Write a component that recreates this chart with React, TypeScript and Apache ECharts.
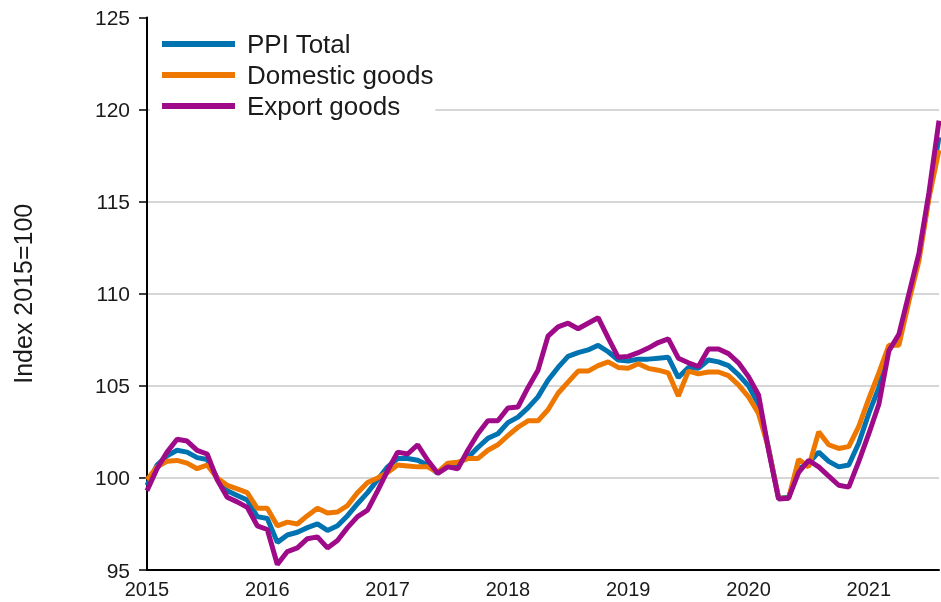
import React, { useEffect, useRef } from "react";
import * as echarts from "echarts";

const months: string[] = [];
for (let y = 2015; y <= 2021; y++) {
  for (let m = 1; m <= 12; m++) {
    if (y === 2021 && m > 8) break;
    months.push(`${y}M${String(m).padStart(2, "0")}`);
  }
}

const seriesNames = ["PPI Total", "Domestic goods", "Export goods"];

const ppiTotal = [
  99.6, 100.7, 101.2, 101.5, 101.4, 101.1, 101.0, 100.0, 99.3, 99.05, 98.8, 97.9,
  97.8, 96.5, 96.9, 97.05, 97.3, 97.5, 97.15, 97.4, 97.95, 98.6, 99.2, 99.9,
  100.6, 101.05, 101.05, 100.96, 100.7, 100.25, 100.7, 100.8, 101.1, 101.65, 102.15, 102.4,
  103.0, 103.3, 103.8, 104.4, 105.3, 106.0, 106.6, 106.8, 106.95, 107.2, 106.85, 106.4,
  106.35, 106.45, 106.45, 106.5, 106.55, 105.45, 106.0, 105.95, 106.4, 106.3, 106.1, 105.6,
  105.0, 104.0, 101.6, 98.9, 98.95, 100.5, 100.8, 101.4, 100.9, 100.6, 100.7, 101.9,
  103.5, 104.9, 107.0, 107.6, 109.8, 112.0, 115.3, 118.5,
];

const domesticGoods = [
  99.9, 100.6, 100.9, 100.95, 100.8, 100.5, 100.7, 100.0, 99.6, 99.4, 99.2, 98.35,
  98.35, 97.4, 97.6, 97.5, 97.95, 98.35, 98.1, 98.15, 98.5, 99.2, 99.75, 100.0,
  100.3, 100.7, 100.65, 100.6, 100.6, 100.3, 100.8, 100.85, 101.05, 101.05, 101.5, 101.8,
  102.3, 102.75, 103.1, 103.1, 103.7, 104.6, 105.2, 105.8, 105.8, 106.1, 106.3, 106.0,
  105.95, 106.2, 105.95, 105.85, 105.7, 104.45, 105.8, 105.65, 105.75, 105.75, 105.55, 105.05,
  104.4, 103.5, 101.6, 98.9, 98.9, 101.0, 100.6, 102.5, 101.8, 101.6, 101.7, 102.8,
  104.3, 105.7, 107.2, 107.2, 109.6, 111.8, 115.2, 117.8,
];

const exportGoods = [
  99.3, 100.5, 101.4, 102.1, 102.0, 101.5, 101.3, 99.9, 98.95, 98.7, 98.4, 97.4,
  97.2, 95.3, 96.0, 96.2, 96.7, 96.8, 96.2, 96.6, 97.3, 97.9, 98.25, 99.3,
  100.4, 101.4, 101.3, 101.8, 100.96, 100.25, 100.6, 100.5, 101.5, 102.4, 103.1, 103.1,
  103.8, 103.85, 104.9, 105.85, 107.7, 108.2, 108.4, 108.1, 108.4, 108.7, 107.6, 106.55,
  106.6, 106.8, 107.05, 107.35, 107.55, 106.5, 106.25, 106.05, 107.0, 107.0, 106.75, 106.25,
  105.5, 104.5, 101.5, 98.85, 98.9, 100.3, 100.95, 100.6, 100.1, 99.6, 99.5, 100.9,
  102.4, 104.0, 106.9, 107.8, 110.0, 112.2, 115.5, 119.4,
];

const colors = ["#0073B0", "#EE7700", "#9F0A89"];
const font = "'Liberation Sans', Arial, sans-serif";

export default function App() {
  const ref = useRef<HTMLDivElement>(null);
  useEffect(() => {
    document.body.style.margin = "0";
    document.body.style.overflow = "hidden";
    if (!ref.current) return;
    const chart = echarts.init(ref.current, undefined, { renderer: "svg" });
    const data = [ppiTotal, domesticGoods, exportGoods];
    chart.setOption({
      animation: false,
      color: colors,
      textStyle: { fontFamily: font },
      grid: { left: 147, right: 2, top: 17.5, bottom: 32, containLabel: false },
      legend: {
        orient: "vertical",
        left: 150,
        top: 27,
        padding: [4, 2, 4, 12],
        backgroundColor: "#ffffff",
        icon: "rect",
        itemWidth: 73,
        itemHeight: 6,
        itemGap: 5,
        textStyle: {
          fontFamily: font,
          fontSize: 26,
          lineHeight: 25,
          color: "#1a1a1a",
          padding: [0, 0, 0, 7],
        },
        data: seriesNames,
      },
      xAxis: {
        type: "category",
        data: months,
        boundaryGap: false,
        axisLine: { show: true, lineStyle: { color: "#000", width: 2 } },
        axisTick: { show: false },
        splitLine: { show: false },
        axisLabel: {
          interval: (index: number) => index % 12 === 0,
          formatter: (v: string) => v.slice(0, 4),
          fontFamily: font,
          fontSize: 20,
          color: "#1a1a1a",
          margin: 9,
        },
      },
      yAxis: {
        type: "value",
        min: 95,
        max: 125,
        interval: 5,
        name: "Index 2015=100",
        nameLocation: "middle",
        nameGap: 112,
        nameTextStyle: { fontFamily: font, fontSize: 25, color: "#1a1a1a" },
        axisLine: { show: true, lineStyle: { color: "#000", width: 2 } },
        axisTick: { show: true, length: 8, lineStyle: { color: "#000", width: 1.5 } },
        axisLabel: { fontFamily: font, fontSize: 21, color: "#1a1a1a", margin: 17 },
        splitLine: {
          show: true,
          lineStyle: {
            color: ["#c8c8c8", "#c8c8c8", "#c8c8c8", "#c8c8c8", "#c8c8c8", "#c8c8c8", "rgba(0,0,0,0)"],
            width: 1.5,
          },
        },
      },
      series: seriesNames.map((name, i) => ({
        name,
        type: "line",
        data: data[i],
        showSymbol: false,
        symbol: "none",
        lineStyle: { width: 5, color: colors[i] },
        z: 2 + i,
      })),
    });
    return () => chart.dispose();
  }, []);
  return (
    <div
      ref={ref}
      style={{ position: "fixed", left: 0, top: 0, width: 941, height: 602 }}
    />
  );
}
